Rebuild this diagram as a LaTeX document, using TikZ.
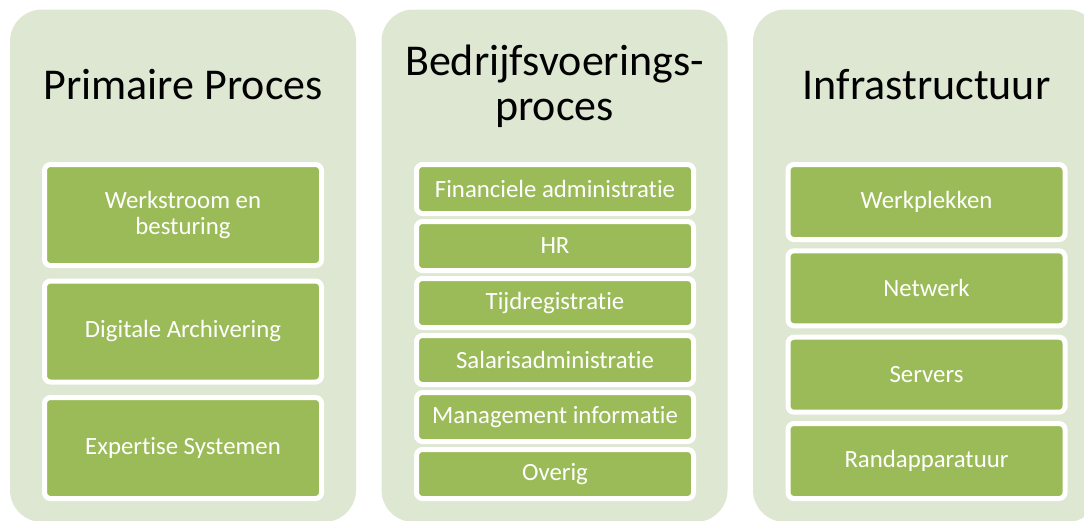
\documentclass[tikz,border=0pt]{standalone}
\usepackage{fontspec}
\setmainfont{Carlito}[Ligatures={NoCommon,NoContextual}]
\definecolor{panelgreen}{HTML}{DEE7D1}
\definecolor{boxgreen}{HTML}{9BBB59}
\tikzset{
  panel/.style={fill=panelgreen, draw=none, rounded corners=32pt, inner sep=0pt, minimum width=346pt, minimum height=512.5pt},
  titletext/.style={font=\fontsize{44}{43}\selectfont, text=black, inner sep=0pt, anchor=base},
  boxitem/.style={fill=boxgreen, draw=white, line width=5pt, rounded corners=6pt, inner sep=0pt,
    minimum width=277pt, text=white, align=center, font=\fontsize{24.8}{26.5}\selectfont},
  tallbox/.style={boxitem, minimum height=101pt},
  smallbox/.style={boxitem, minimum height=49pt},
  midbox/.style={boxitem, minimum height=75pt},
}
\begin{document}
\begin{tikzpicture}[x=1pt,y=-1pt]
\useasboundingbox (0,0) rectangle (1084,520);
\clip (0,0) rectangle (1084,520);
% panels
\node[panel] (p1) at (183,265.75) {};
\node[panel] (p2) at (554.5,265.75) {};
\node[panel] (p3) at (926,265.75) {};
% titles
\node[titletext] (t1) at (183,99) {Primaire Proces};
\node[titletext] (t2a) at (554.5,75) {Bedrijfsvoerings-};
\node[titletext] (t2b) at (554.5,120) {proces};
\node[titletext] (t3) at (926.5,99) {Infrastructuur};
% column 1
\node[tallbox] (a1) at (183,215) {Werkstroom en\\besturing};
\node[tallbox] (a2) at (183,331.5) {Digitale Archivering};
\node[tallbox] (a3) at (183,448) {Expertise Systemen};
% column 2
\node[smallbox] (b1) at (555,189) {Financiele administratie};
\node[smallbox] (b2) at (555,246) {HR};
\node[smallbox] (b3) at (555,303) {Tijdregistratie};
\node[smallbox] (b4) at (555,360) {Salarisadministratie};
\node[smallbox] (b5) at (555,417) {Management informatie};
\node[smallbox] (b6) at (555,474) {Overig};
% column 3
\node[midbox] (c1) at (926.5,202) {Werkplekken};
\node[midbox] (c2) at (926.5,288.3) {Netwerk};
\node[midbox] (c3) at (926.5,374.7) {Servers};
\node[midbox] (c4) at (926.5,461) {Randapparatuur};
\end{tikzpicture}
\end{document}
